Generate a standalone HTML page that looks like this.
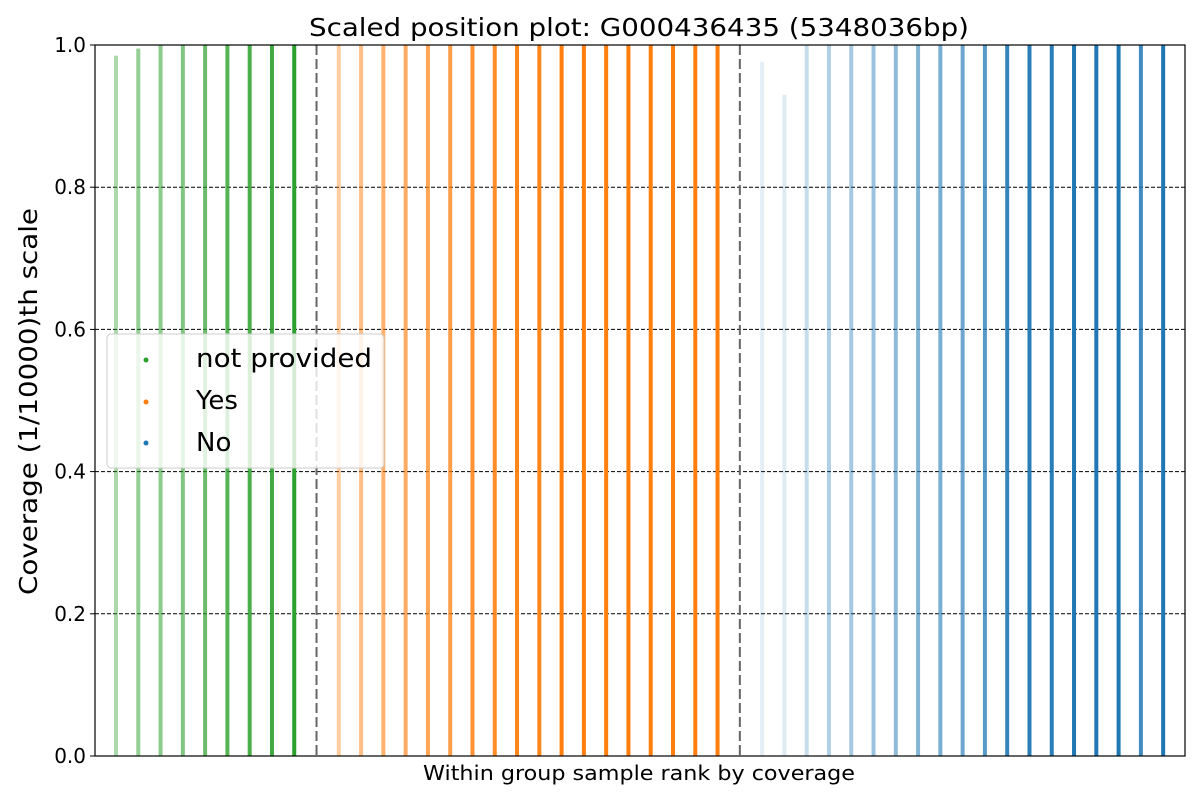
<!DOCTYPE html>
<html><head><meta charset="utf-8"><style>
body{margin:0;background:#fff;}
svg{display:block;font-family:"DejaVu Sans","Liberation Sans",sans-serif;}
</style></head><body>
<svg id="chart" width="1200" height="800" viewBox="0 0 1200 800">
<text x="309" y="36" font-size="25" textLength="660" lengthAdjust="spacingAndGlyphs">Scaled position plot: G000436435 (5348036bp)</text>
<text transform="translate(37,595) rotate(-90)" font-size="25" textLength="387" lengthAdjust="spacingAndGlyphs">Coverage (1/10000)th scale</text>
<text x="423" y="780" font-size="20" textLength="432" lengthAdjust="spacingAndGlyphs">Within group sample rank by coverage</text>
<g id="grid"></g><g id="marks"></g><g id="seps"></g>
<rect x="95" y="45" width="1090" height="711" fill="none" stroke="#000" stroke-width="1.2"/>
<g id="yticks"></g>
<g>
<rect x="107" y="334" width="277" height="134" rx="4" fill="#fff" fill-opacity="0.8" stroke="#ccc"/>
<circle cx="146" cy="360" r="2.5" fill="#2ca02c"/>
<text x="196" y="367" font-size="26" textLength="176" lengthAdjust="spacingAndGlyphs">not provided</text>
<circle cx="146" cy="402" r="2.5" fill="#ff7f0e"/>
<text x="196" y="409" font-size="26">Yes</text>
<circle cx="146" cy="443" r="2.5" fill="#1f77b4"/>
<text x="196" y="451" font-size="26">No</text>
</g>
</svg>
<script>
const groups=["not provided","Yes","No"];
const colors=["#2ca02c","#ff7f0e","#1f77b4"];
const greenTops=[0.985,0.995,1,1,1,1,1,1,1];
const greenDensity=[0.4,0.5,0.55,0.6,0.7,0.8,0.85,0.9,1.0];
const orangeTops=[1,1,1,1,1,1,1,1,1,1,1,1,1,1,1,1,1,1];
const orangeDensity=[0.4,0.5,0.6,0.65,0.7,0.75,0.85,0.9,0.95,0.95,1,1,1,1,1,1,1,1];
const blueTops=[0.976,0.93,1,1,1,1,1,1,1,1,1,1,1,1,1,1,1,1,1];
const blueDensity=[0.12,0.15,0.25,0.35,0.4,0.45,0.5,0.55,0.6,0.65,0.75,0.9,0.95,0.95,1,1,1,0.85,1];
const yTicks=[0,0.2,0.4,0.6,0.8,1.0];
const yTickLabels=["0.0","0.2","0.4","0.6","0.8","1.0"];
const NS="http://www.w3.org/2000/svg";
const X=i=>116+i*22.28;
const Y=v=>756-v*711;
function mk(t,a,p){const e=document.createElementNS(NS,t);for(const k in a)e.setAttribute(k,a[k]);p.appendChild(e);return e;}
const grid=document.getElementById('grid'),marks=document.getElementById('marks'),seps=document.getElementById('seps'),yt=document.getElementById('yticks');
yTicks.forEach((v,i)=>{
 if(v>0&&v<1){const l=mk('line',{x1:95,x2:1185,y1:Y(v),y2:Y(v),stroke:'#000','stroke-width':1,'stroke-dasharray':'4,2'},grid);
 
 }
 const t=mk('line',{x1:90,x2:95,y1:Y(v),y2:Y(v),stroke:'#000'},yt);
 
 
 const tx=mk('text',{x:86,y:Y(v)+7,'font-size':20,'text-anchor':'end'},yt);tx.textContent=yTickLabels[i];
 
 
});
const series=[[greenTops,greenDensity],[orangeTops,orangeDensity],[blueTops,blueDensity]];
let slot=0;
series.forEach((s,g)=>{
 s[0].forEach((top,j)=>{
  const r=mk('rect',{x:X(slot)-2,y:Y(top),width:4,height:Y(0)-Y(top),fill:colors[g],'fill-opacity':s[1][j]},marks);
  
  
  slot++;
 });
 if(g<2){const l=mk('line',{x1:X(slot),x2:X(slot),y1:45,y2:756,stroke:'#666','stroke-width':2,'stroke-dasharray':'10,4'},seps);
  
  
  slot++;}
});
</script>
</body></html>
